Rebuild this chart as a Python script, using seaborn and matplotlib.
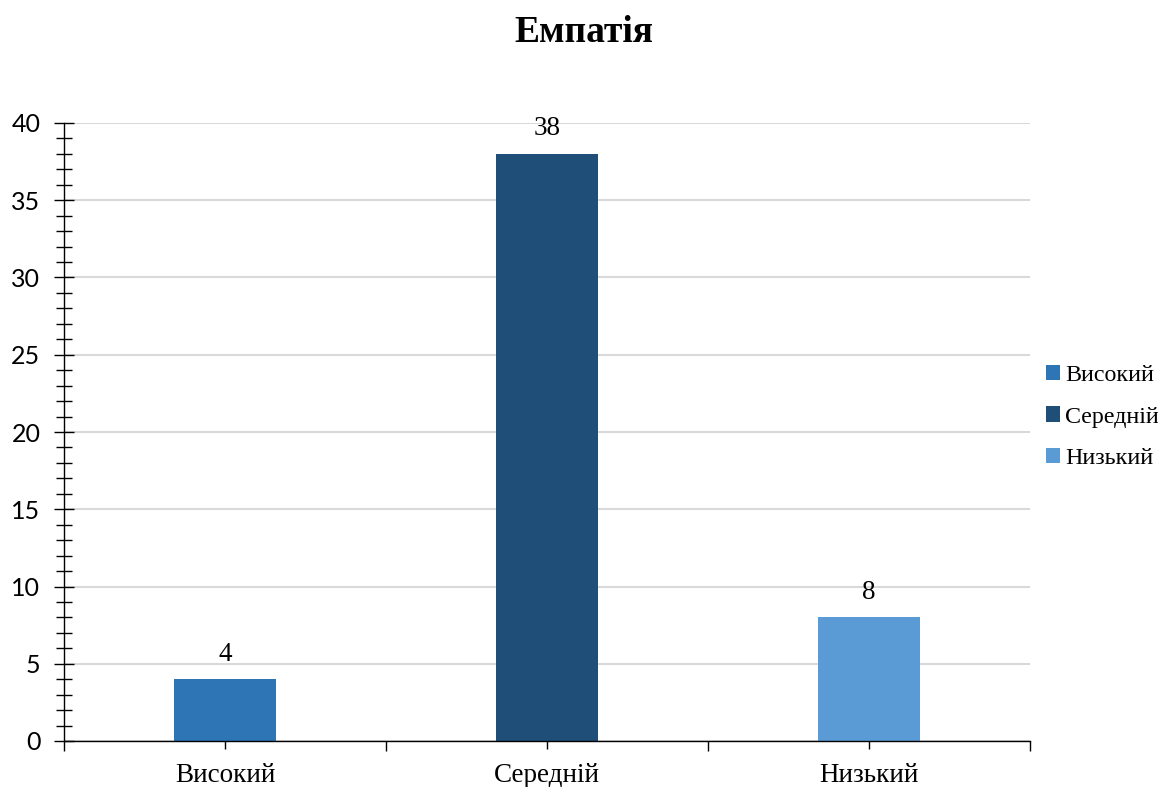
import matplotlib
matplotlib.use("Agg")
import matplotlib.pyplot as plt
import seaborn as sns
import pandas as pd
from matplotlib.ticker import MultipleLocator, FixedLocator
from matplotlib.patches import Patch

categories = ["Високий", "Середній", "Низький"]
values = [4, 38, 8]
colors = ["#2E75B6", "#1F4E79", "#5B9BD5"]
title = "Емпатія"

sns.set_theme(style="white")
plt.rcParams["font.family"] = ["Liberation Serif", "DejaVu Serif"]
plt.rcParams["text.color"] = "black"
plt.rcParams["xtick.color"] = "black"
plt.rcParams["ytick.color"] = "black"

df = pd.DataFrame({"level": categories, "count": values})

fig = plt.figure(figsize=(11.58, 7.87), dpi=100)
ax = fig.add_axes([64 / 1158, 1 - 741 / 787, (1030 - 64) / 1158, (741 - 123) / 787])

sns.barplot(data=df, x="level", y="count", hue="level", palette=colors,
            width=0.314, dodge=False, legend=False, ax=ax, saturation=1,
            edgecolor="none")

ax.set_xlim(-0.5, 2.5)
ax.set_ylim(0, 40)
ax.set_xlabel("")
ax.set_ylabel("")

# value labels above bars
for cont in ax.containers:
    ax.bar_label(cont, fontsize=19.5, padding=9, family="Liberation Serif",
                 color="black")

# gridlines
ax.yaxis.set_major_locator(MultipleLocator(5))
ax.yaxis.set_minor_locator(MultipleLocator(1))
ax.grid(axis="y", which="major", color="#d9d9d9", linewidth=1.5)
ax.set_axisbelow(True)

for side in ["top", "right"]:
    ax.spines[side].set_visible(False)
for side in ["left", "bottom"]:
    ax.spines[side].set_color("black")
    ax.spines[side].set_linewidth(1.0)

ax.tick_params(axis="y", which="major", direction="inout", length=14, width=1,
               color="black", labelcolor="black", labelsize=18, pad=10, left=True)
ax.tick_params(axis="y", which="minor", direction="inout", length=11, width=1,
               color="black", left=True)
for lab in ax.get_yticklabels():
    lab.set_family(["Lato", "DejaVu Sans"])

ax.xaxis.set_minor_locator(FixedLocator([-0.5, 0.5, 1.5, 2.5]))
ax.tick_params(axis="x", which="major", direction="inout", length=12, width=1,
               color="black", labelcolor="black", labelsize=19.5, pad=9.5,
               bottom=True)
ax.tick_params(axis="x", which="minor", direction="out", length=7, width=1,
               color="black", bottom=True)

fig.text(584 / 1158, 1 - 32 / 787, title, ha="center", va="center",
         fontsize=27, fontweight="bold", family="Liberation Serif",
         color="black")

handles = [Patch(facecolor=c, edgecolor="none") for c in colors]
leg = fig.legend(handles, categories, loc="center left",
                 bbox_to_anchor=(1046 / 1158, 1 - 417 / 787), frameon=False,
                 fontsize=17.3, handlelength=0.6, handleheight=0.6,
                 handletextpad=0.2, labelspacing=0.85, borderaxespad=0,
                 borderpad=0)
for t in leg.get_texts():
    t.set_color("black")

fig.savefig("out.png", dpi=100, facecolor="white")
